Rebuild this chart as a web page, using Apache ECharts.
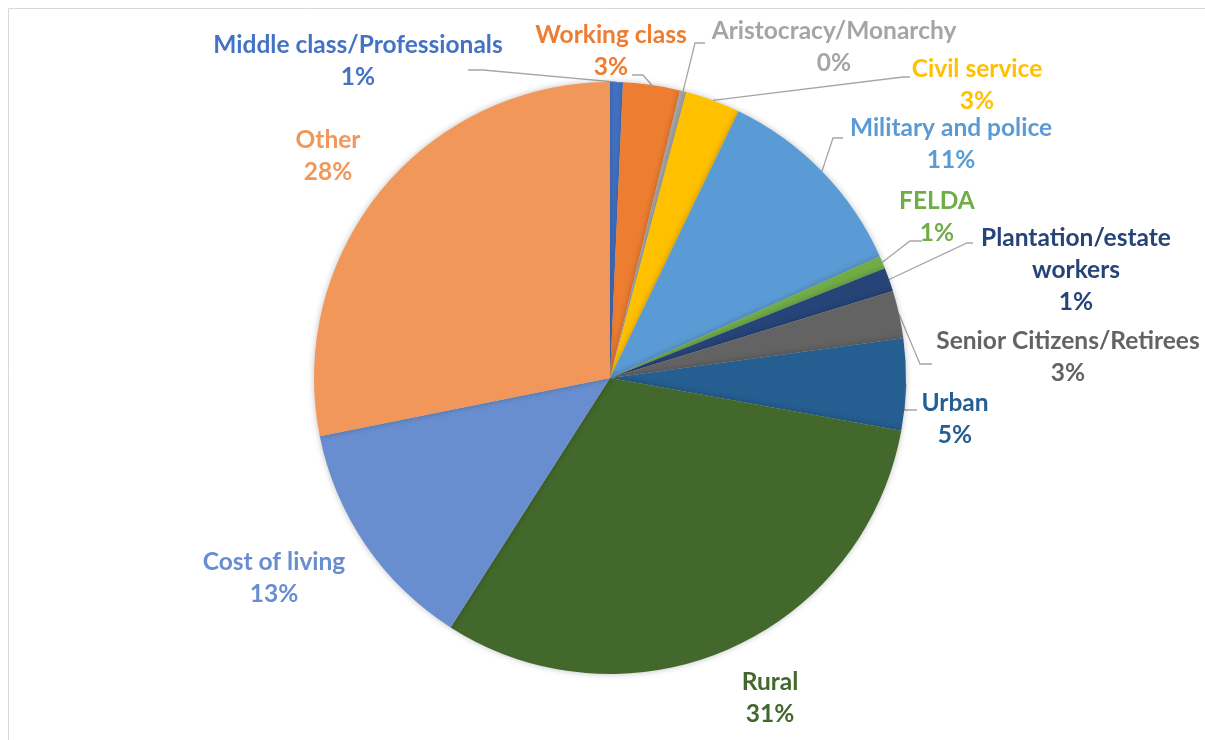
<!DOCTYPE html>
<html>
<head>
<meta charset="utf-8">
<script src="https://cdn.jsdelivr.net/npm/echarts@6/dist/echarts.min.js"></script>
<style>
  html, body { margin: 0; padding: 0; background: #fff; }
  #chart { width: 1205px; height: 740px; }
</style>
</head>
<body>
<div id="chart"></div>
<script>
// categories clockwise from 12 o'clock
const categories = [
  'Middle class/Professionals', 'Working class', 'Aristocracy/Monarchy', 'Civil service',
  'Military and police', 'FELDA', 'Plantation/estate workers', 'Senior Citizens/Retirees',
  'Urban', 'Rural', 'Cost of living', 'Other'
]
// shares (percent)
const shares = [0.7, 3.1, 0.35, 3.0, 11.1, 0.7, 1.3, 2.6, 5.0, 31.2, 12.8, 28.15]

const palette = [
  '#4472C4', '#ED7D31', '#A5A5A5', '#FFC000', '#5B9BD5', '#70AD47',
  '#264478', '#636363', '#255E91', '#43682B', '#698ED0', '#F1975A'
]

// label spots (centre of text block) and leader elbow points
const labelSpots = [
  { x: 358, y: 61, line: [[483, 70], [468, 70]] },
  { x: 611, y: 51, line: [[643, 75], [632, 75]] },
  { x: 834, y: 47, line: [[695, 43], [705, 43]] },
  { x: 977, y: 85, line: [[903, 77], [910, 77]] },
  { x: 951, y: 144, line: [[833, 138], [843, 138]] },
  { x: 937, y: 217, line: [[910, 241], [922, 241]] },
  { x: 1076, y: 270, line: [[967, 243], [973, 243]] },
  { x: 1068, y: 357, line: [[920, 364], [932, 364]] },
  { x: 955, y: 419, line: [[904, 410], [917, 410]] },
  { x: 770, y: 698 },
  { x: 274, y: 578 },
  { x: 328, y: 156 }
]

const chart = echarts.init(document.getElementById('chart'))

const pieData = categories.map((name, i) => ({
  name,
  value: shares[i],
  itemStyle: { color: palette[i] },
  label: { color: palette[i] },
  labelLine: { show: !!labelSpots[i].line }
}))

chart.setOption({
  animation: false,
  graphic: [
    { type: 'line', shape: { x1: 8.5, y1: 8.5, x2: 1205, y2: 8.5 }, style: { stroke: '#d9d9d9', lineWidth: 1 } },
    { type: 'line', shape: { x1: 8.5, y1: 8.5, x2: 8.5, y2: 740 }, style: { stroke: '#d9d9d9', lineWidth: 1 } }
  ],
  series: [{
    type: 'pie',
    center: [610, 378],
    radius: 296,
    startAngle: 90,
    clockwise: true,
    silent: true,
    avoidLabelOverlap: false,
    itemStyle: {
      borderWidth: 0,
      shadowBlur: 6,
      shadowColor: 'rgba(0,0,0,0.25)'
    },
    label: {
      show: true,
      position: 'outside',
      fontFamily: 'Lato',
      fontWeight: 'bold',
      fontSize: 24.5,
      lineHeight: 32,
      align: 'center',
      formatter: p => (p.name === 'Plantation/estate workers' ? 'Plantation/estate\nworkers' : p.name) +
        '\n' + Math.round(p.percent) + '%'
    },
    labelLine: {
      show: true,
      lineStyle: { color: '#a6a6a6', width: 1.3 }
    },
    labelLayout: params => {
      const s = labelSpots[params.dataIndex]
      const res = { x: s.x, y: s.y, align: 'center', verticalAlign: 'middle' }
      if (s.line && params.labelLinePoints) {
        res.labelLinePoints = [params.labelLinePoints[0], ...s.line]
      }
      return res
    },
    data: pieData
  }]
})
</script>
</body>
</html>
